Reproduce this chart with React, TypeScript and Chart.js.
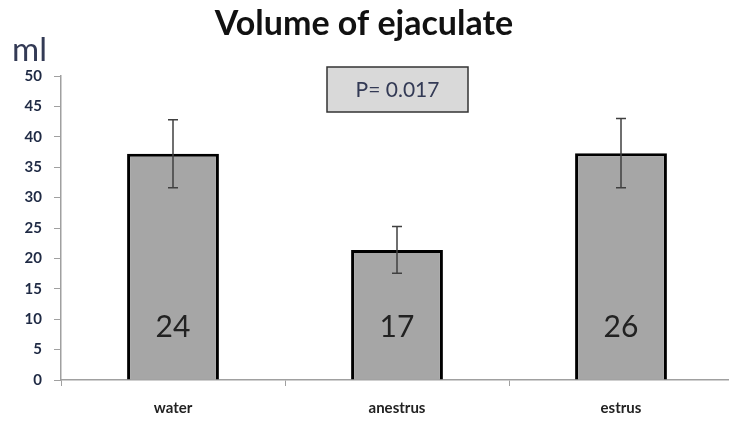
import React, { useEffect, useRef } from "react";
import { Chart, registerables } from "chart.js";

Chart.register(...registerables);

const categories = ["water", "anestrus", "estrus"];
const means = [37.2, 21.4, 37.3];
const errors = [5.6, 3.85, 5.7];
const counts = ["24", "17", "26"];
const yTicks = [0, 5, 10, 15, 20, 25, 30, 35, 40, 45, 50];
const titleText = "Volume of ejaculate";
const unitText = "ml";
const pText = "P= 0.017";

const FONT = "Lato, 'Open Sans', sans-serif";

const overlay = {
  id: "overlay",
  afterDatasetsDraw(chart: any) {
    const ctx = chart.ctx;
    const x = chart.scales.x;
    const y = chart.scales.y;
    ctx.save();
    // error bars
    ctx.strokeStyle = "#404040";
    ctx.lineWidth = 1.5;
    means.forEach((m, i) => {
      const cx = x.getPixelForValue(i);
      const top = y.getPixelForValue(m + errors[i]);
      const bot = y.getPixelForValue(m - errors[i]);
      ctx.beginPath();
      ctx.moveTo(cx, top);
      ctx.lineTo(cx, bot);
      ctx.moveTo(cx - 5, top);
      ctx.lineTo(cx + 5, top);
      ctx.moveTo(cx - 5, bot);
      ctx.lineTo(cx + 5, bot);
      ctx.stroke();
    });
    // counts
    ctx.fillStyle = "#222";
    ctx.font = `30px ${FONT}`;
    ctx.textAlign = "center";
    ctx.textBaseline = "middle";
    counts.forEach((c, i) => {
      ctx.fillText(c, x.getPixelForValue(i), y.getPixelForValue(8.7));
    });
    // title
    ctx.font = `bold 34px ${FONT}`;
    ctx.fillStyle = "#111";
    ctx.fillText(titleText, 364, 24);
    // unit
    ctx.font = `33px ${FONT}`;
    ctx.fillStyle = "#333a55";
    ctx.textAlign = "left";
    ctx.textBaseline = "alphabetic";
    ctx.fillText(unitText, 12, 61);
    // P box
    ctx.fillStyle = "#d9d9d9";
    ctx.fillRect(327, 67, 141, 45);
    ctx.strokeStyle = "#333";
    ctx.lineWidth = 1.5;
    ctx.strokeRect(327, 67, 141, 45);
    ctx.fillStyle = "#333a55";
    ctx.font = `21px ${FONT}`;
    ctx.textAlign = "center";
    ctx.textBaseline = "middle";
    ctx.fillText(pText, 397.5, 90);
    ctx.restore();
  },
};

export default function App() {
  const ref = useRef<HTMLCanvasElement>(null);
  useEffect(() => {
    const chart = new Chart(ref.current!, {
      type: "bar",
      data: {
        labels: categories,
        datasets: [
          {
            data: means,
            backgroundColor: "#a6a6a6",
            borderColor: "#000",
            borderWidth: 3,
            borderSkipped: "bottom",
            categoryPercentage: 1,
            barPercentage: 0.41,
          },
        ],
      },
      options: {
        animation: false,
        responsive: false,
        maintainAspectRatio: false,
        layout: { padding: { top: 76, right: 4, bottom: 0, left: 0 } },
        plugins: { legend: { display: false }, tooltip: { enabled: false }, title: { display: false } },
        scales: {
          x: {
            afterFit: (axis: any) => {
              axis.height = 41;
            },
            grid: { drawOnChartArea: false, color: "#a0a0a0", tickLength: 6, offset: true },
            border: { color: "#a0a0a0", width: 1.5 },
            ticks: { color: "#222", font: { family: FONT, size: 15, weight: "bold" }, padding: 13 },
          },
          y: {
            min: 0,
            max: 50,
            afterFit: (axis: any) => {
              axis.width = 61;
            },
            afterBuildTicks: (axis: any) => {
              axis.ticks = yTicks.map((v) => ({ value: v }));
            },
            grid: { drawOnChartArea: false, color: "#a0a0a0", tickLength: 7 },
            border: { color: "#a0a0a0", width: 1.5 },
            ticks: { color: "#1f2a44", font: { family: FONT, size: 15, weight: "bold" }, padding: 12 },
          },
        },
      },
      plugins: [overlay],
    });
    return () => chart.destroy();
  }, []);
  return (
    <div style={{ position: "fixed", left: 0, top: 0, width: 729, height: 421, overflow: "hidden", background: "#fff" }}>
      <canvas ref={ref} width={737} height={421} style={{ display: "block" }} />
    </div>
  );
}
